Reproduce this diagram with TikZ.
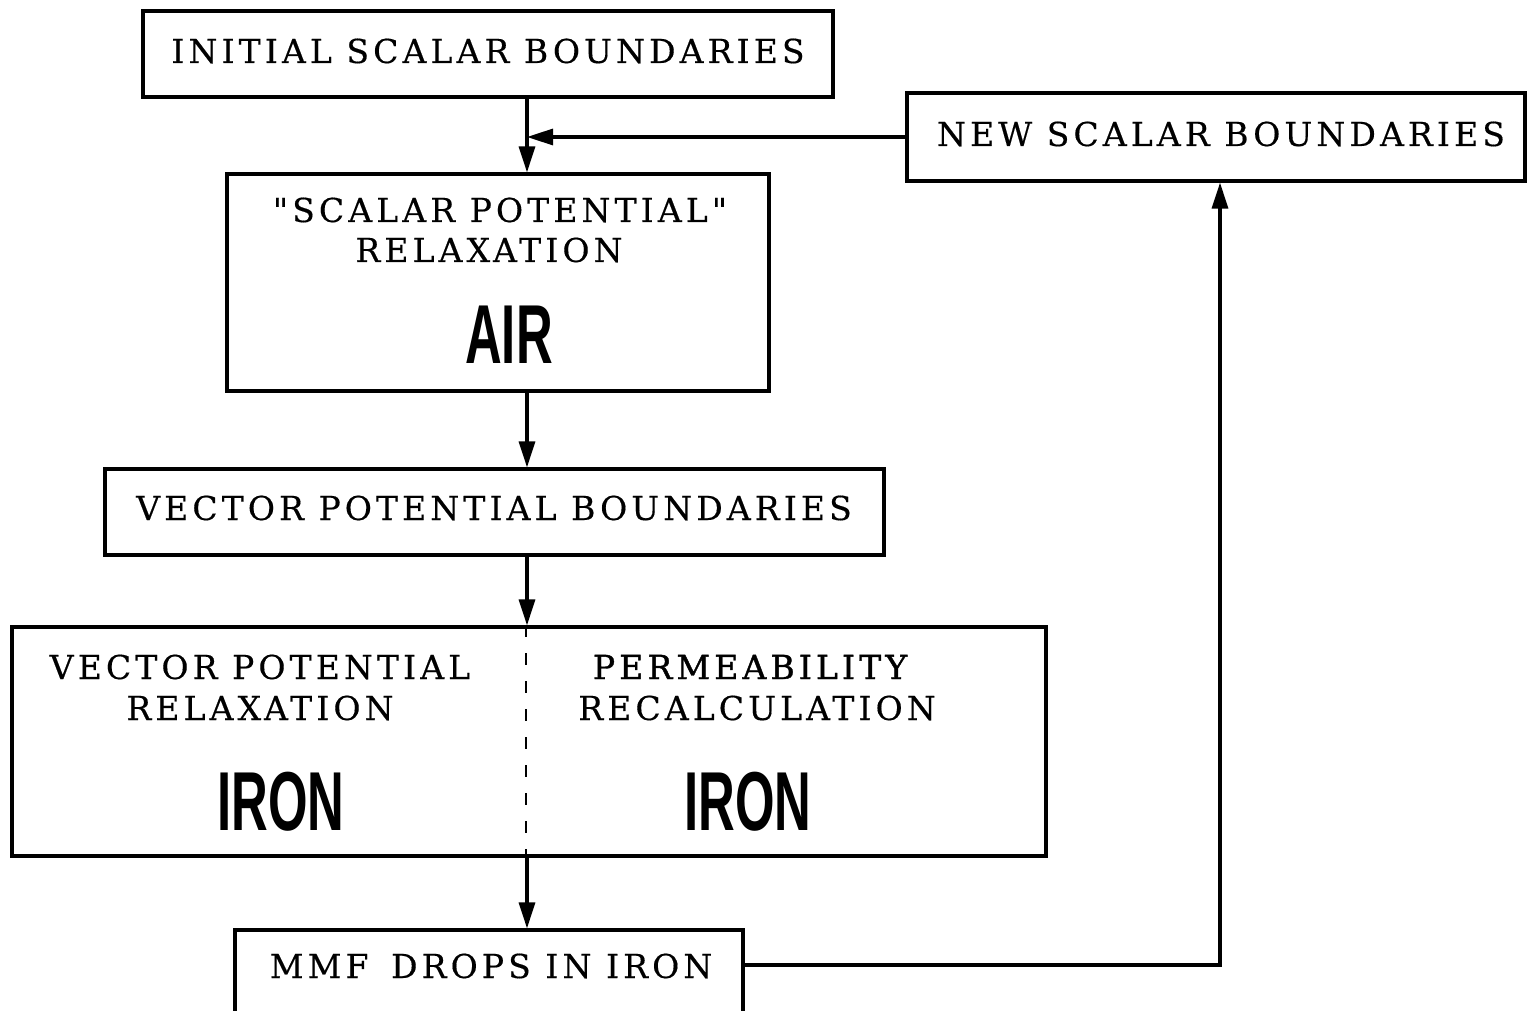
\documentclass[tikz,border=0pt]{standalone}
\usepackage{fontspec}
\setmainfont{DejaVu Serif}
\newfontfamily\boxfont[LetterSpace=12.5,FakeBold=0.4]{DejaVu Serif}
\newfontfamily\boxfontb[LetterSpace=12.5,FakeBold=1.2]{DejaVu Serif}
\newfontfamily\bigfont{Liberation Sans}
\usetikzlibrary{arrows.meta}
\tikzset{
  lbl/.style={anchor=base, inner sep=0pt, font=\fontsize{33}{35}\selectfont\boxfont},
  lblb/.style={anchor=base, inner sep=0pt, font=\fontsize{33}{35}\selectfont\boxfontb},
  big/.style={anchor=base, inner sep=0pt},
  boxx/.style={draw, line width=3.2pt, inner sep=0pt},
  conn/.style={line width=3.2pt},
  arr/.style={line width=3.2pt, -{Triangle[length=26pt,width=16pt]}}
}
\newcommand{\bigword}[1]{\scalebox{0.62}[1.02]{\fontsize{82}{84}\selectfont\bigfont\bfseries #1}}
\begin{document}
\begin{tikzpicture}[x=1pt,y=-1pt]
\useasboundingbox (0,0) rectangle (1527,1011);
\clip (0,0) rectangle (1527,1011);
% boxes
\node[boxx, minimum width=690pt, minimum height=86pt] (b1) at (488,54) {};
\node[boxx, minimum width=618pt, minimum height=88pt] (nb) at (1216,137) {};
\node[boxx, minimum width=542pt, minimum height=217pt] (b3) at (498,282.5) {};
\node[boxx, minimum width=779pt, minimum height=86pt] (b4) at (494.5,512) {};
\node[boxx, minimum width=1034pt, minimum height=229pt] (b5) at (529,741.5) {};
\node[boxx, minimum width=508pt, minimum height=90pt] (b6) at (489,975) {};
% texts
\node[lbl] (t1) at (488,63) {INITIAL SCALAR BOUNDARIES};
\node[lbl] (t2) at (1221,146) {NEW SCALAR BOUNDARIES};
\node[lbl] (t3a) at (500,222) {"SCALAR POTENTIAL"};
\node[lbl] (t3b) at (489,262) {RELAXATION};
\node[big] (t3c) at (509,363) {\bigword{AIR}};
\node[lbl] (t4) at (494,520) {VECTOR POTENTIAL BOUNDARIES};
\node[lbl] (t5a) at (260,679) {VECTOR POTENTIAL};
\node[lbl] (t5b) at (260,720) {RELAXATION};
\node[lblb] (t5c) at (750,679) {PERMEABILITY};
\node[lbl] (t5d) at (757,720) {RECALCULATION};
\node[big] (t5e) at (281,830) {\bigword{IRON}};
\node[big] (t5f) at (748,830) {\bigword{IRON}};
\node[lbl] (t6) at (491,978) {MMF\hspace{8pt} DROPS IN IRON};
% divider
\draw[line width=2.2pt, dash pattern=on 12pt off 16pt] (b5.north -| 526,0) -- (b5.south -| 526,0);
% connectors
\coordinate (sp) at (527,0);
\coordinate (fb) at (1220,0);
\coordinate (jn) at (nb.west -| sp);
\draw[conn] (b1.south -| sp) -- (jn);
\draw[arr] (jn) -- (b3.north -| sp);
\draw[arr] (nb.west) -- (jn);
\draw[arr] (b3.south -| sp) -- (b4.north -| sp);
\draw[arr] (b4.south -| sp) -- (b5.north -| sp);
\draw[arr] (b5.south -| sp) -- (b6.north -| sp);
\coordinate (mo) at (b6.east |- 0,965);
\draw[arr] (mo) -- (mo -| fb) -- (nb.south -| fb);
\end{tikzpicture}
\end{document}
